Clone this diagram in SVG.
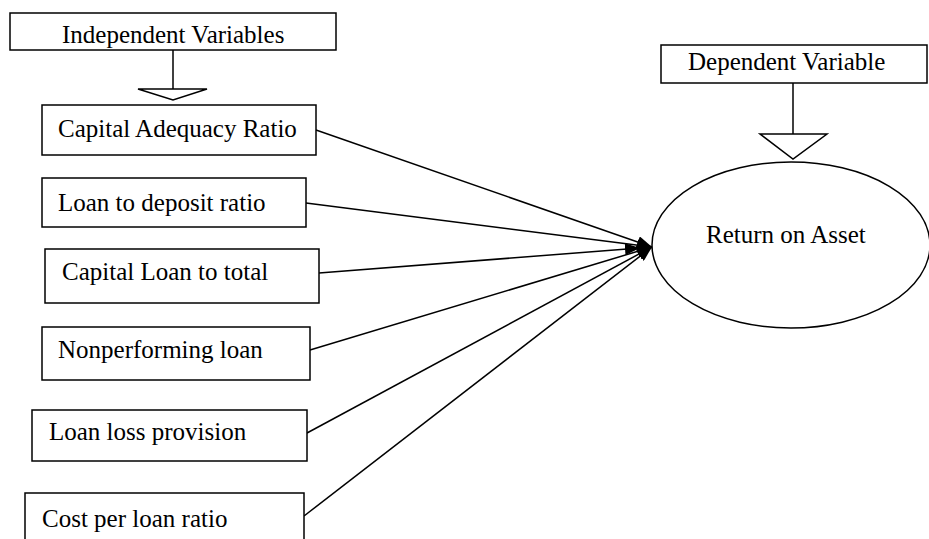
<svg xmlns="http://www.w3.org/2000/svg" width="929" height="539" viewBox="0 0 929 539">
<style>
.box{fill:#fff;stroke:#000;stroke-width:1.5}
.lbl{font-family:"Liberation Serif","Times New Roman",serif;font-size:25px;fill:#000}
.con{stroke:#000;stroke-width:1.5;fill:none}
.tri{fill:#fff;stroke:#000;stroke-width:1.5}
</style>
<defs>
<marker id="ah" markerUnits="userSpaceOnUse" markerWidth="16" markerHeight="12" refX="15" refY="6" orient="auto">
<path d="M0,0 L15,6 L0,12 Z" fill="#000"/>
</marker>
</defs>
<rect width="929" height="539" fill="#fff"/>
<g id="connectors">
<line class="con" x1="173" y1="50" x2="173" y2="89"/>
<polygon class="tri" points="138,89 207,89 173,100"/>
<line class="con" x1="793" y1="83" x2="793" y2="134"/>
<polygon class="tri" points="760,134 827,134 793,159"/>
<line class="con" x1="316" y1="130" x2="652" y2="247" marker-end="url(#ah)"/>
<line class="con" x1="306" y1="203" x2="652" y2="247" marker-end="url(#ah)"/>
<line class="con" x1="319" y1="273" x2="640" y2="248" marker-end="url(#ah)"/>
<line class="con" x1="310" y1="350" x2="652" y2="247" marker-end="url(#ah)"/>
<line class="con" x1="307" y1="433" x2="652" y2="247" marker-end="url(#ah)"/>
<line class="con" x1="304" y1="516" x2="652" y2="247" marker-end="url(#ah)"/>
</g>
<g id="independent">
<rect class="box" x="10" y="13" width="326" height="37"/>
<text class="lbl" x="62" y="43">Independent Variables</text>
</g>
<g id="dependent">
<rect class="box" x="661" y="45" width="266" height="38"/>
<text class="lbl" x="688" y="70">Dependent Variable</text>
</g>
<g id="roa">
<ellipse class="box" cx="791" cy="245" rx="139" ry="83"/>
<text class="lbl" x="706" y="243">Return on Asset</text>
</g>
<g id="car">
<rect class="box" x="42" y="105" width="274" height="50"/>
<text class="lbl" x="58" y="137">Capital Adequacy Ratio</text>
</g>
<g id="ldr">
<rect class="box" x="42" y="178" width="264" height="49"/>
<text class="lbl" x="58" y="211">Loan to deposit ratio</text>
</g>
<g id="clt">
<rect class="box" x="45" y="249" width="274" height="54"/>
<text class="lbl" x="62" y="280">Capital Loan to total</text>
</g>
<g id="npl">
<rect class="box" x="42" y="327" width="268" height="53"/>
<text class="lbl" x="58" y="358">Nonperforming loan</text>
</g>
<g id="llp">
<rect class="box" x="32" y="410" width="275" height="51"/>
<text class="lbl" x="49" y="440">Loan loss provision</text>
</g>
<g id="cpl">
<rect class="box" x="25" y="493" width="279" height="60"/>
<text class="lbl" x="42" y="527">Cost per loan ratio</text>
</g>
</svg>
